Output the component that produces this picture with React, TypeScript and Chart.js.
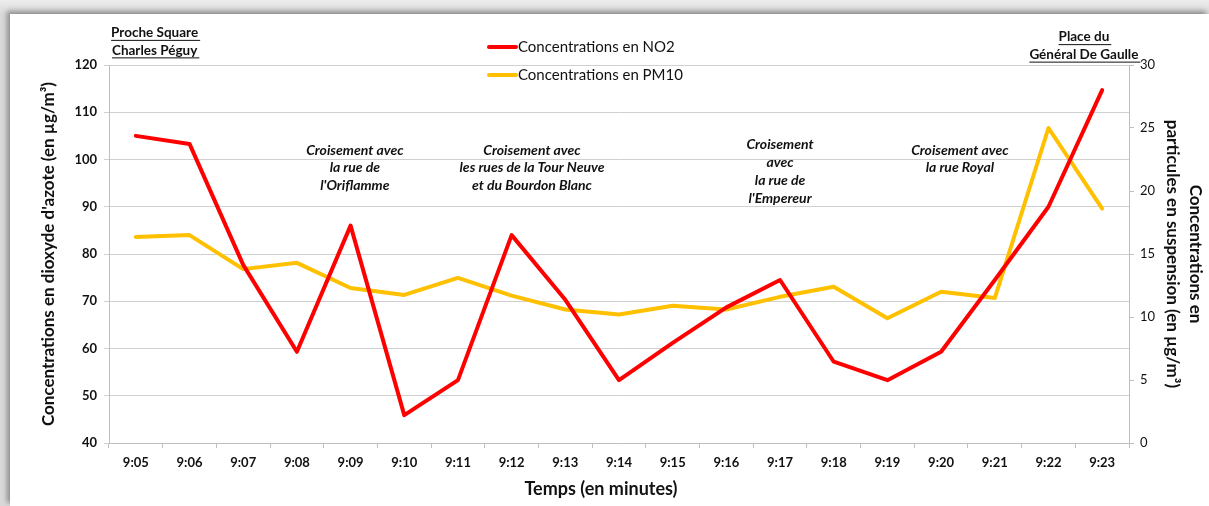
import { useEffect, useRef } from "react";
import { Chart, registerables } from "chart.js";

Chart.register(...registerables);

const times = ["9:05", "9:06", "9:07", "9:08", "9:09", "9:10", "9:11", "9:12", "9:13", "9:14", "9:15", "9:16", "9:17", "9:18", "9:19", "9:20", "9:21", "9:22", "9:23"];
const no2Values = [105, 103.3, 77.7, 59.3, 86, 45.9, 53.3, 84, 70.3, 53.3, 61.2, 68.7, 74.5, 57.2, 53.3, 59.3, 74.5, 90, 114.7];
const pm10Values = [16.35, 16.5, 13.8, 14.3, 12.3, 11.75, 13.1, 11.7, 10.6, 10.2, 10.9, 10.6, 11.6, 12.4, 9.9, 12.0, 11.5, 25, 18.6];

const no2Label = "Concentrations en NO2";
const pm10Label = "Concentrations en PM10";
const leftTitle = "Concentrations en dioxyde d'azote (en µg/m³)";
const rightTitle = ["Concentrations en", "particules en suspension (en µg/m³)"];
const xTitle = "Temps (en minutes)";

const placeNotes = [
  { at: 0.35, top: 126.8, lines: ["Proche Square", "Charles Péguy"] },
  { at: 17.66, top: 125.9, lines: ["Place du", "Général De Gaulle"] },
];
const crossingNotes = [
  { at: 4.08, top: 102.0, lines: ["Croisement avec", "la rue de", "l'Oriflamme"] },
  { at: 7.38, top: 102.0, lines: ["Croisement avec", "les rues de la Tour Neuve", "et du Bourdon Blanc"] },
  { at: 12, top: 103.1, lines: ["Croisement", "avec", "la rue de", "l'Empereur"] },
  { at: 15.35, top: 102.0, lines: ["Croisement avec", "la rue Royal"] },
];

const FONT = "Lato, 'Open Sans', sans-serif";
const RED = "#ff0000";
const YELLOW = "#ffc000";
const TEXT = "#111111";

const notesPlugin = {
  id: "notesPlugin",
  afterDatasetsDraw(chart: any) {
    const { ctx, scales, chartArea } = chart;
    const x = scales.x;
    const y = scales.y;
    ctx.save();
    ctx.fillStyle = TEXT;
    ctx.textAlign = "center";
    ctx.textBaseline = "middle";
    // location labels (underlined)
    ctx.font = `bold 13.5px ${FONT}`;
    for (const n of placeNotes) {
      const cx = x.getPixelForValue(n.at);
      const cy = y.getPixelForValue(n.top);
      n.lines.forEach((t, i) => {
        const yy = cy + i * 17.5;
        ctx.fillText(t, cx, yy);
        const w = ctx.measureText(t).width;
        ctx.fillRect(cx - w / 2, yy + 7, w + 2, 1);
      });
    }
    // crossing labels
    ctx.font = `italic bold 14px ${FONT}`;
    for (const n of crossingNotes) {
      const cx = x.getPixelForValue(n.at);
      const cy = y.getPixelForValue(n.top);
      n.lines.forEach((t, i) => {
        ctx.fillText(t, cx, cy + i * 17.8);
      });
    }
    // x axis title
    ctx.font = `bold 18px ${FONT}`;
    ctx.fillText(xTitle, (chartArea.left + chartArea.right) / 2 - 18, 475);
    // legend
    const items = [
      { label: no2Label, color: RED, y: 33 },
      { label: pm10Label, color: YELLOW, y: 61 },
    ];
    ctx.font = `15px ${FONT}`;
    ctx.textAlign = "left";
    for (const it of items) {
      ctx.strokeStyle = it.color;
      ctx.lineWidth = 4;
      ctx.lineCap = "round";
      ctx.beginPath();
      ctx.moveTo(479, it.y);
      ctx.lineTo(506, it.y);
      ctx.stroke();
      ctx.fillStyle = TEXT;
      ctx.fillText(it.label, 508, it.y);
    }
    ctx.restore();
  },
};

export default function App() {
  const ref = useRef<HTMLCanvasElement>(null);
  useEffect(() => {
    if (!ref.current) return;
    const tickFont = { family: FONT, size: 13, weight: "bold" as const };
    const chart = new Chart(ref.current, {
      type: "line",
      data: {
        labels: times,
        datasets: [
          {
            label: no2Label,
            data: no2Values,
            borderColor: RED,
            backgroundColor: RED,
            borderWidth: 4,
            pointRadius: 0,
            tension: 0,
            yAxisID: "y",
            borderJoinStyle: "round",
            borderCapStyle: "round",
          },
          {
            label: pm10Label,
            data: pm10Values,
            borderColor: YELLOW,
            backgroundColor: YELLOW,
            borderWidth: 4,
            pointRadius: 0,
            tension: 0,
            yAxisID: "y1",
            borderJoinStyle: "round",
            borderCapStyle: "round",
          },
        ],
      },
      options: {
        animation: false,
        responsive: false,
        layout: { padding: { top: 51, left: 0, right: 0, bottom: 0 } },
        plugins: {
          legend: { display: false },
          tooltip: { enabled: false },
        },
        scales: {
          x: {
            type: "category",
            offset: true,
            grid: { offset: true, drawOnChartArea: false, drawTicks: true, tickLength: 5, color: "#bfbfbf" },
            border: { color: "#bfbfbf" },
            ticks: { font: tickFont, color: TEXT, padding: 7, maxRotation: 0, autoSkip: false },
            title: { display: false, text: xTitle },
            afterFit: (s: any) => {
              s.height = 63;
            },
          },
          y: {
            position: "left",
            min: 40,
            max: 120,
            ticks: { stepSize: 10, font: tickFont, color: TEXT, padding: 7 },
            grid: { color: "#d0d0d0", tickLength: 5, drawTicks: true },
            border: { color: "#bfbfbf" },
            title: {
              display: true,
              text: leftTitle,
              color: TEXT,
              font: { family: FONT, size: 17, weight: "bold" },
              padding: { top: 28, bottom: 0 },
            },
            afterFit: (s: any) => {
              s.width = 99;
            },
          },
          y1: {
            position: "right",
            min: 0,
            max: 30,
            ticks: { stepSize: 5, font: { family: FONT, size: 13 }, color: TEXT, padding: 6 },
            grid: { drawOnChartArea: false, tickLength: 5, drawTicks: true, color: "#bfbfbf" },
            border: { color: "#bfbfbf" },
            title: {
              display: true,
              text: rightTitle,
              color: TEXT,
              font: { family: FONT, size: 17, weight: "bold", lineHeight: 1.35 },
              padding: { top: 2, bottom: 0 },
            },
            afterFit: (s: any) => {
              s.width = 80;
            },
          },
        },
      },
      plugins: [notesPlugin],
    });
    return () => chart.destroy();
  }, []);

  return (
    <div
      style={{
        position: "fixed",
        left: 0,
        top: 0,
        width: 1209,
        height: 506,
        overflow: "hidden",
        background: "linear-gradient(180deg, #ededed 0px, #d9d9d9 14px)",
      }}
    >
      <div
        style={{
          position: "absolute",
          left: 10,
          top: 14,
          width: 1199,
          height: 492,
          background: "#ffffff",
          boxShadow: "-3px -3px 5px rgba(0,0,0,0.35)",
        }}
      >
        <canvas ref={ref} width={1199} height={492} style={{ display: "block" }} />
      </div>
    </div>
  );
}
